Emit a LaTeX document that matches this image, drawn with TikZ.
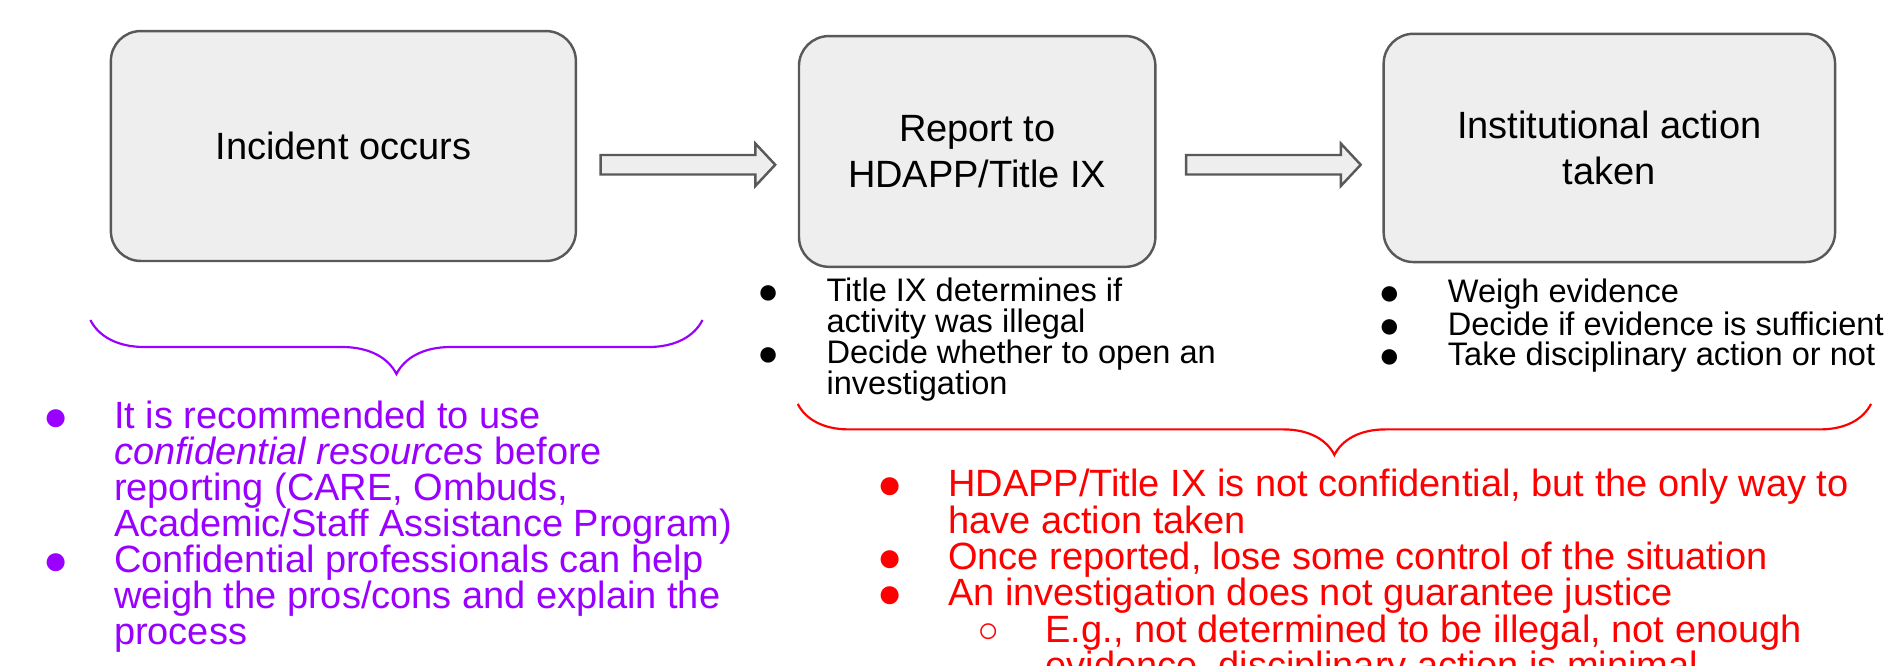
\documentclass[tikz,border=0pt]{standalone}
\usepackage{fontspec}
\setmainfont{Liberation Sans}
\usetikzlibrary{positioning,decorations.pathreplacing}

\definecolor{boxfill}{HTML}{EEEEEE}
\definecolor{boxline}{HTML}{595959}
\definecolor{advice}{HTML}{9900FF}
\definecolor{warn}{HTML}{FF0000}

% keep the baselines exactly where \fontsize puts them
\lineskiplimit=-\maxdimen

% bullet lists: the node sits on the centre of the first bullet
\newlength{\bulind}
\setlength{\bulind}{21.5pt}
\newcommand{\bdot}{\makebox[0pt]{\smash{\raisebox{-0.05em}{\scalebox{1.1}{●}}}}}
\newcommand{\bitem}{\bdot\hspace*{\bulind}}
\newcommand{\bcont}{\hspace*{\bulind}}
\newcommand{\sitem}{\hspace*{36.3pt}\makebox[0pt]{\smash{\scalebox{0.95}{○}}}\hspace*{21.1pt}}
\newcommand{\scont}{\hspace*{57.4pt}}

\begin{document}
\begin{tikzpicture}[x=1pt, y=1pt,
		stepbox/.style = {draw=boxline, fill=boxfill, line width=0.9pt, rounded corners=11pt,
			inner sep=0pt, align=center, font=\fontsize{14}{16.9}\selectfont},
		pics/flow/.style = {code={
				\draw[boxline, fill=boxfill, line width=0.9pt]
				(0,3.6) -- (57,3.6) -- (57,7.8) -- (64.3,0) -- (57,-7.8) -- (57,-3.6) -- (0,-3.6) -- cycle;}},
		notes/.style   = {anchor=base west, inner sep=0pt},
		curly/.style   = {decorate, decoration={brace, mirror, amplitude=#1}, line width=0.8pt}]
	
	\useasboundingbox (0,0) rectangle (697.4,-245);
	\clip (0,0) rectangle (697.4,-245);
	
	% the three steps
	\node[stepbox, minimum width=171.3pt, minimum height=84.7pt] (incident) at (126.5,-53.8) {Incident occurs};
	\node[stepbox, minimum width=131.3pt, minimum height=85pt] (report) at (360.0,-55.8) {Report to\\HDAPP/Title IX};
	\node[stepbox, minimum width=166.3pt, minimum height=84.1pt] (action) at (592.9,-54.5) {Institutional action\\taken};
	
	% block arrows between the steps
	\pic (arr1) at ([xshift=8.7pt, yshift=-6.9pt]incident.east) {flow};
	\pic (arr2) at ([xshift=10.9pt, yshift=-4.9pt]report.east) {flow};
	
	% notes under the boxes
	\node[notes, font=\fontsize{12}{11.4}\selectfont] (report-notes) at (282.8,-111.1) {\parbox[t]{170pt}{\raggedright
		\bitem Title IX determines if\\
		\bcont activity was illegal\\
		\bitem Decide whether to open an\\
		\bcont investigation}};
	\node[notes, font=\fontsize{12}{11.1}\selectfont] (action-notes) at (511.7,-111.5) {\parbox[t]{185pt}{\raggedright
		\bitem Weigh evidence\\
		\bitem Decide if evidence is sufficient\\
		\bitem Take disciplinary action or not}};
	
	% braces
	\coordinate (adv-l) at (33.3,-117.9);
	\coordinate (adv-r) at (258.8,-117.9);
	\draw[advice, curly=19.9pt] (adv-l) -- (adv-r);
	
	\coordinate (warn-l) at (293.9,-148.8);
	\coordinate (warn-r) at (689.3,-148.8);
	\draw[warn, curly=18.8pt] (warn-l) -- (warn-r);
	
	% what the braces point to
	\node[notes, text=advice, font=\fontsize{14}{13.26}\selectfont] (advice-notes) at (20.3,-158.0) {\parbox[t]{252pt}{\raggedright
		\bitem It is recommended to use\\
		\bcont \textit{confidential resources} before\\
		\bcont reporting (CARE, Ombuds,\\
		\bcont Academic/Staff Assistance Program)\\
		\bitem Confidential professionals can help\\
		\bcont weigh the pros/cons and explain the\\
		\bcont process}};
	\node[notes, text=warn, font=\fontsize{14}{13.4}\selectfont] (warn-notes) at (327.6,-183.0) {\parbox[t]{365pt}{\raggedright
		\bitem HDAPP/Title IX is not confidential, but the only way to\\
		\bcont have action taken\\
		\bitem Once reported, lose some control of the situation\\
		\bitem An investigation does not guarantee justice\\
		\sitem E.g., not determined to be illegal, not enough\\
		\scont evidence, disciplinary action is minimal}};
\end{tikzpicture}
\end{document}
